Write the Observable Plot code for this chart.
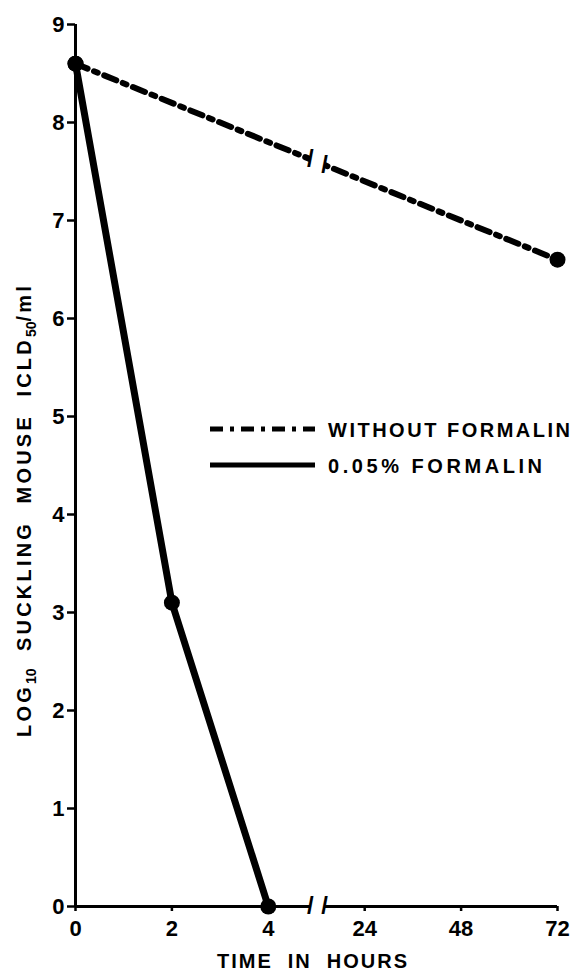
<!DOCTYPE html>
<html><head><meta charset="utf-8">
<script src="https://cdn.jsdelivr.net/npm/d3@7"></script>
<script src="https://cdn.jsdelivr.net/npm/@observablehq/plot@0.6"></script>
<style>
body{margin:0;background:#fff;}
#chart{position:relative;width:577px;height:975px;}
svg text{font-family:"Liberation Sans",Arial,sans-serif;font-weight:bold;}
</style></head><body><div id="chart"></div>
<script>
// ---- data ----
const xTickHours = [0, 2, 4, 24, 48, 72];
const yTicks = [0, 1, 2, 3, 4, 5, 6, 7, 8, 9];
const withoutHours = [0, 72];
const withoutLog = [8.6, 6.6];
const formalinHours = [0, 2, 4];
const formalinLog = [8.6, 3.1, 0];
const seriesNames = ["WITHOUT FORMALIN", "0.05% FORMALIN"];
const xTitle = "TIME  IN  HOURS";

// broken time axis: 0–4 h linear, then 24 h per 2 units
const pos = h => h <= 4 ? h : 4 + h / 12;
const breakPos = [4.87, 5.17];

const without = withoutHours.map((h, i) => ({p: pos(h), v: withoutLog[i]}));
const formalin = formalinHours.map((h, i) => ({p: pos(h), v: formalinLog[i]}));
const onLine = p => without[0].v + (without[1].v - without[0].v) * (p - without[0].p) / (without[1].p - without[0].p);
const lineBreak = breakPos.map(p => ({p, v: onLine(p)}));

const W = 577, H = 975, mL = 75, mR = 20, mT = 24, mB = 69;
const dashDot = "13 7 4 7";

const plot = Plot.plot({
  width: W, height: H,
  marginLeft: mL, marginRight: mR, marginTop: mT, marginBottom: mB,
  style: {fontFamily: "Liberation Sans, Arial, sans-serif", fontWeight: "bold", background: "white"},
  x: {domain: [0, 10], axis: null},
  y: {domain: [0, 9], axis: null},
  marks: [
    // y axis
    Plot.ruleX([0], {strokeWidth: 3, stroke: "black"}),
    Plot.axisY(yTicks, {label: null, tickFormat: d => String(d), tickSize: 8, tickPadding: 3, fontSize: 22, fontWeight: "bold", strokeWidth: 2.5, stroke: "black", fill: "black"}),
    // x axis (broken)
    Plot.ruleY([0], {x1: 0, x2: breakPos[0], strokeWidth: 3, stroke: "black"}),
    Plot.ruleY([0], {x1: breakPos[1], x2: 10, strokeWidth: 3, stroke: "black"}),
    Plot.axisX(xTickHours.map(pos), {label: null, tickSize: 5, tickPadding: 9, fontSize: 22, fontWeight: "bold", strokeWidth: 2.5,
      tickFormat: p => String(xTickHours[xTickHours.map(pos).indexOf(p)])}),
    Plot.text(breakPos, {x: d => d, y: 0, text: () => "/", fontSize: 24, fontWeight: "bold", fill: "black"}),
    // series
    Plot.line(without, {x: "p", y: "v", stroke: "black", strokeWidth: 6, strokeDasharray: dashDot}),
    Plot.link([lineBreak], {x1: d => d[0].p, y1: d => d[0].v, x2: d => d[1].p, y2: d => d[1].v, stroke: "white", strokeWidth: 12}),
    Plot.text(lineBreak, {x: "p", y: "v", text: () => "/", fontSize: 24, fontWeight: "bold", fill: "black"}),
    Plot.line(formalin, {x: "p", y: "v", stroke: "black", strokeWidth: 7}),
    Plot.dot(without.concat(formalin), {x: "p", y: "v", r: 8, fill: "black"})
  ]
});
document.getElementById("chart").appendChild(plot);

// titles and legend
const svg = d3.select(plot);
const yT = svg.append("text").attr("transform", "translate(31,510) rotate(-90)")
  .attr("text-anchor", "middle").attr("font-size", 20).attr("letter-spacing", 3.2);
yT.append("tspan").text("LOG");
yT.append("tspan").attr("dy", 5).attr("font-size", 14).attr("letter-spacing", 0).text("10");
yT.append("tspan").attr("dy", -5).text("\u00a0\u00a0SUCKLING\u00a0\u00a0MOUSE\u00a0\u00a0ICLD");
yT.append("tspan").attr("dy", 5).attr("font-size", 14).attr("letter-spacing", 0).text("50");
yT.append("tspan").attr("dy", -5).text("/ml");

svg.append("text").attr("x", 312).attr("y", 968).attr("text-anchor", "middle").attr("font-size", 20)
  .attr("textLength", 190).attr("lengthAdjust", "spacing").text(xTitle);

const lg = svg.append("g").attr("text-anchor", "start");
lg.append("line").attr("x1", 210).attr("x2", 315).attr("y1", 429).attr("y2", 429)
  .attr("stroke", "black").attr("stroke-width", 5).attr("stroke-dasharray", dashDot);
lg.append("line").attr("x1", 210).attr("x2", 315).attr("y1", 465).attr("y2", 465)
  .attr("stroke", "black").attr("stroke-width", 5);
lg.append("text").attr("x", 328).attr("y", 437).attr("font-size", 20).attr("text-anchor", "start").attr("textLength", 242).attr("lengthAdjust", "spacing").text(seriesNames[0]);
lg.append("text").attr("x", 328).attr("y", 473).attr("font-size", 20).attr("text-anchor", "start").attr("textLength", 214).attr("lengthAdjust", "spacing").text(seriesNames[1]);
</script></body></html>
